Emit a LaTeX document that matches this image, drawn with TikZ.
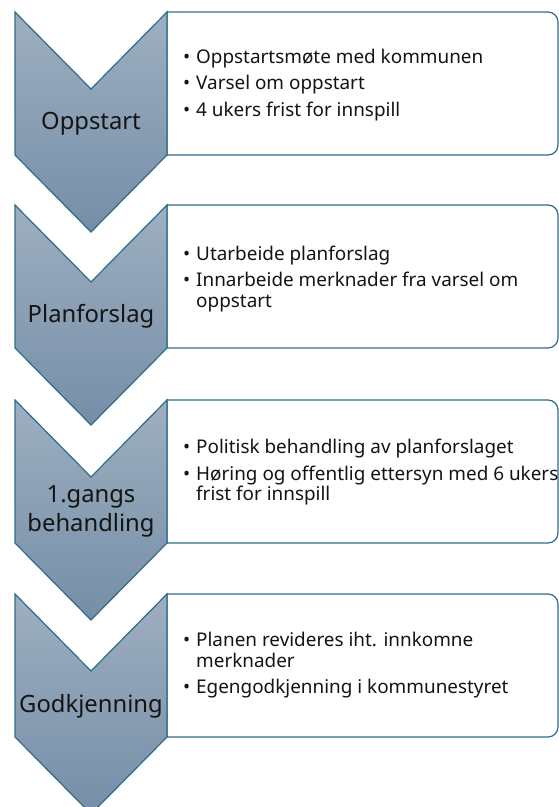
\documentclass[tikz,border=0pt]{standalone}
\usepackage{fontspec}
\setmainfont{Noto Sans}
\definecolor{chevtop}{RGB}{158,175,192}
\definecolor{chevbot}{RGB}{117,142,167}
\definecolor{edgeblue}{RGB}{46,108,140}
\newcommand\bitem{\makebox[13pt][l]{•}}
\newcommand\bcont{\hspace*{13pt}}
\begin{document}
\begin{tikzpicture}[x=1pt,y=1pt,
  chev/.style={draw=edgeblue, line width=1.2pt, top color=chevtop, bottom color=chevbot, line join=miter},
  infobox/.style={draw=edgeblue, line width=1.2pt, fill=white},
  steptext/.style={font=\fontsize{23.8}{29}\selectfont, align=center, text=black!92, inner sep=0pt},
  bultext/.style={font=\fontsize{18.9}{20.5}\selectfont, align=left, anchor=west, inner sep=0pt, text=black!92}]
\useasboundingbox (0,0) rectangle (559,-807);
\fill[white] (0,0) rectangle (559,-807);
\clip (0,0) rectangle (559,-807);
\foreach \t in {12,205,400,594} {
  \path[infobox] (167,-\t) -- (548,-\t) arc[start angle=90, end angle=0, radius=10]
     -- (558,-\t-133) arc[start angle=0, end angle=-90, radius=10] -- (167,-\t-143) -- cycle;
  \path[chev] (15,-\t) -- (91,-\t-77) -- (167,-\t) -- (167,-\t-143) -- (91,-\t-220) -- (15,-\t-143) -- cycle;
}
\node[steptext] (s1) at (91,-124) {Oppstart};
\node[steptext] (s2) at (91,-316) {Planforslag};
\node[steptext] (s3) at (91,-511) {1.gangs\\behandling};
\node[steptext] (s4) at (91,-706) {Godkjenning};
\node[bultext] (b1) at (183,-85) {\bitem Oppstartsmøte med kommunen\\[6pt]\bitem Varsel om oppstart\\[6pt]\bitem 4 ukers frist for innspill};
\node[bultext] (b2) at (183,-279) {\bitem Utarbeide planforslag\\[6pt]\bitem Innarbeide merknader fra varsel om\\\bcont oppstart};
\node[bultext] (b3) at (183,-472.5) {\bitem Politisk behandling av planforslaget\\[6pt]\bitem Høring og offentlig ettersyn med 6 ukers\\\bcont frist for innspill};
\node[bultext] (b4) at (183,-665.5) {\bitem Planen revideres iht. innkomne\\\bcont merknader\\[6pt]\bitem Egengodkjenning i kommunestyret};
\end{tikzpicture}
\end{document}
